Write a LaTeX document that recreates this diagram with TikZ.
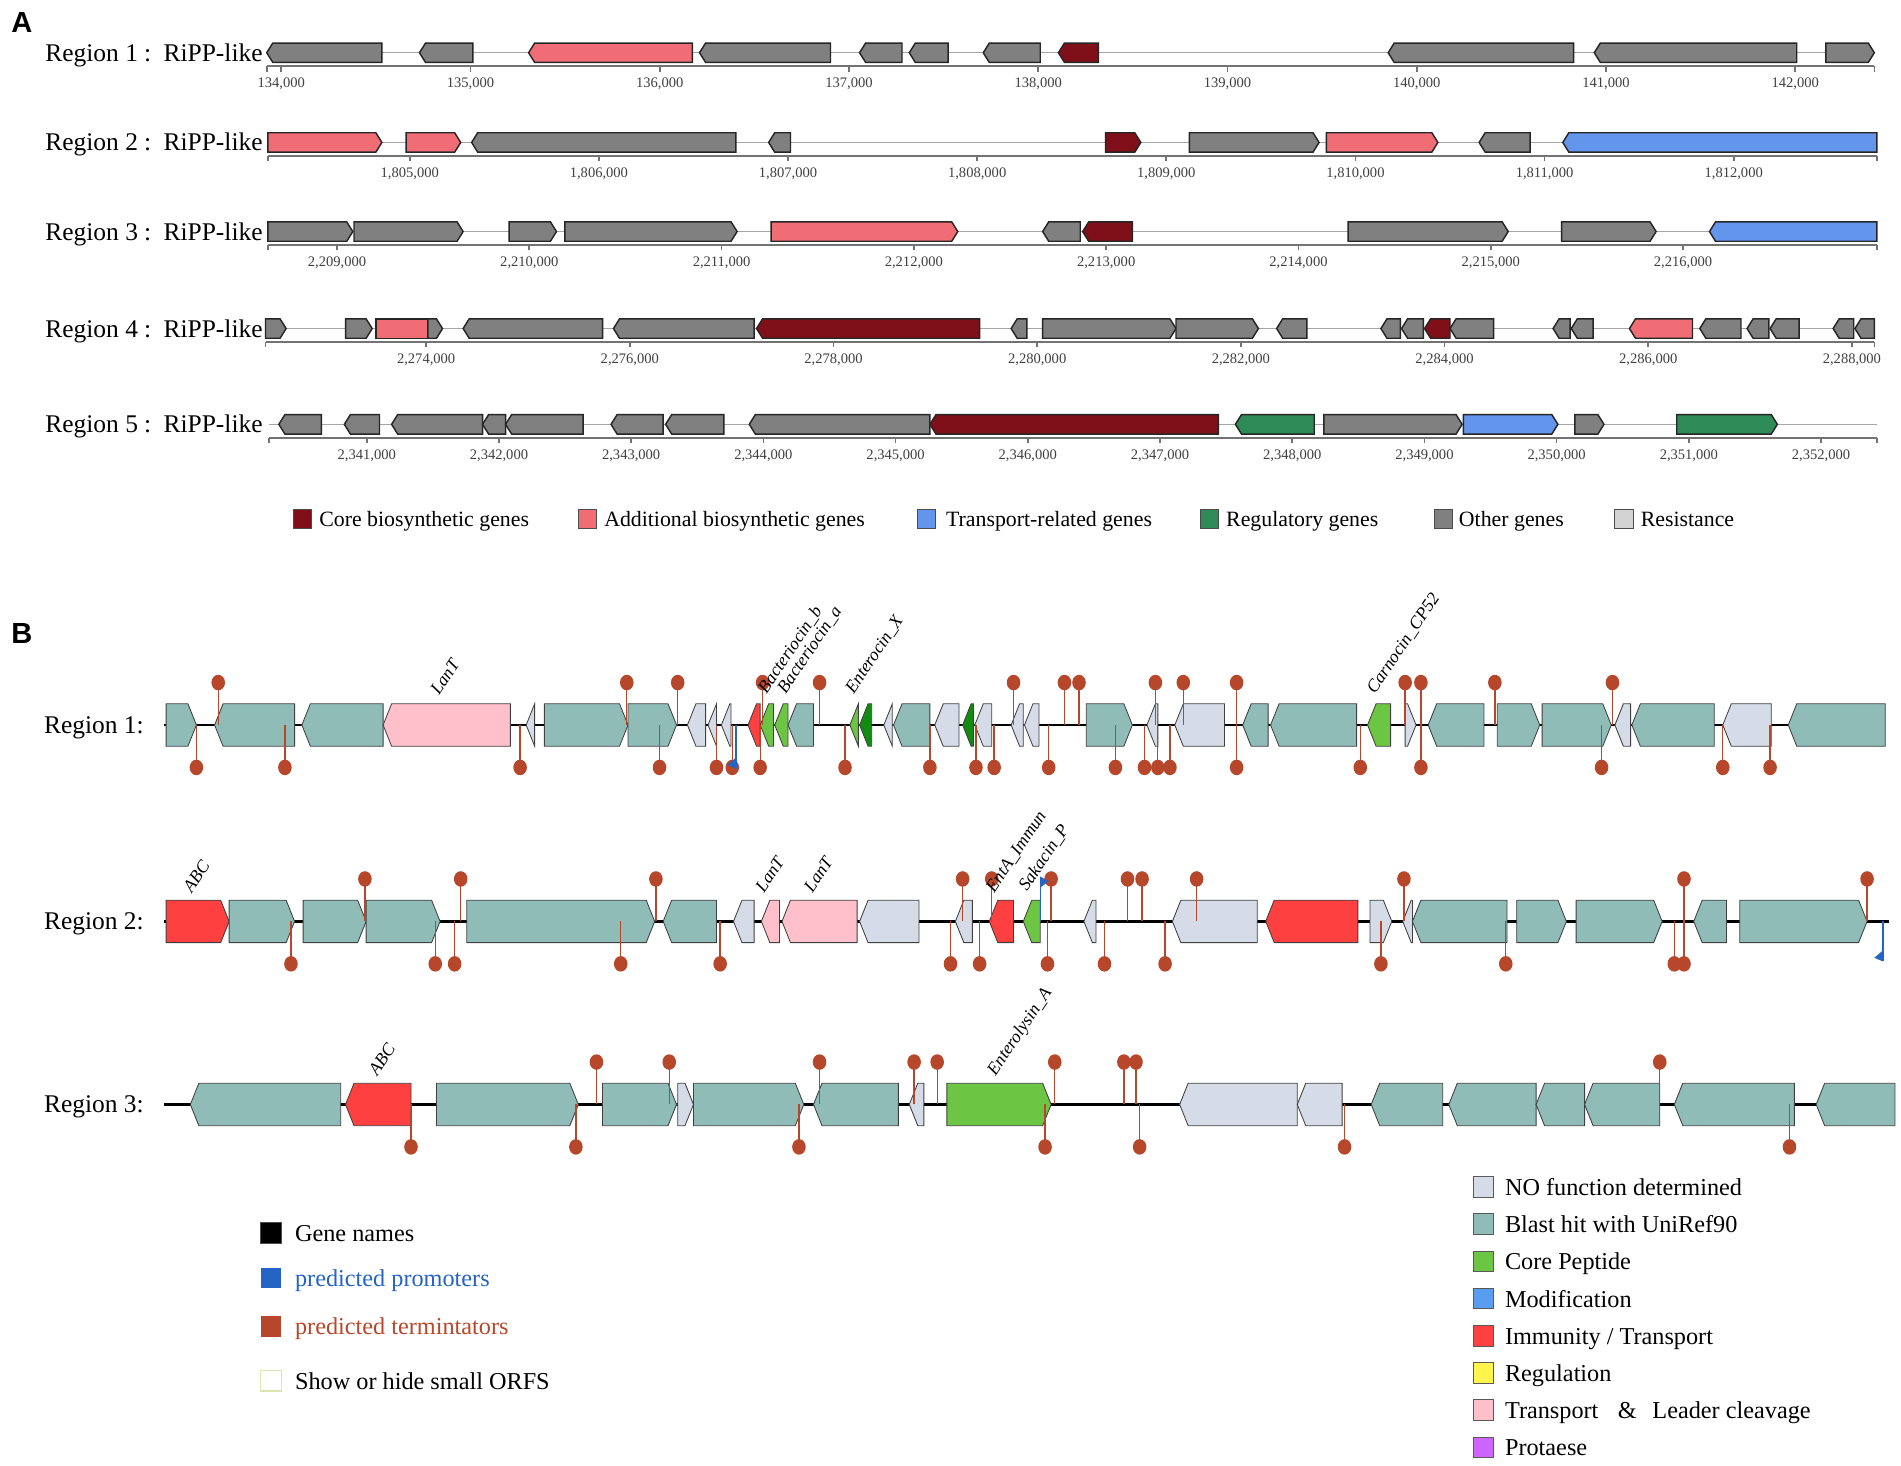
\documentclass[tikz,border=0pt]{standalone}
\usepackage{fontspec}
\setmainfont{Liberation Serif}
\newfontfamily\panelfont{Liberation Sans}
\usetikzlibrary{positioning}

% panel A colours
\definecolor{aGray}{HTML}{808080}
\definecolor{aCore}{HTML}{7F0F19}
\definecolor{aAdd}{HTML}{F06D76}
\definecolor{aTrans}{HTML}{6495ED}
\definecolor{aReg}{HTML}{2E8B57}
\definecolor{aRes}{HTML}{D3D3D3}
% panel B colours
\definecolor{bBlast}{HTML}{90BCB8}
\definecolor{bNone}{HTML}{D5DCE7}
\definecolor{bCore}{HTML}{6CC644}
\definecolor{bDark}{HTML}{118C11}
\definecolor{bImmun}{HTML}{FF4040}
\definecolor{bPink}{HTML}{FFC0CB}
\definecolor{bMod}{HTML}{5A9CF0}
\definecolor{bReg}{HTML}{FFF54D}
\definecolor{bProt}{HTML}{CC66FF}
\definecolor{term}{HTML}{B7472A}
\definecolor{prom}{HTML}{2563C4}
\definecolor{orfEdge}{HTML}{D9E8B0}

\tikzset{
  geneA/.style={draw=black!85, line width=0.6pt},
  geneB/.style={draw=black!75, line width=0.35pt},
  backA/.style={draw=black!35, line width=0.5pt},
  axisA/.style={draw=black!55, line width=0.7pt},
  backB/.style={draw=black, line width=0.9pt},
  termstem/.style={draw=term, line width=0.55pt},
  promline/.style={draw=prom, line width=0.6pt},
  regionA/.style={font=\fontsize{10.5}{12}\selectfont, inner sep=0pt},
  tickA/.style={font=\fontsize{6}{7}\selectfont, text=black!75, inner sep=0pt, anchor=base},
  legendA/.style={font=\fontsize{9}{11}\selectfont, inner sep=0pt, anchor=base west},
  regionB/.style={font=\fontsize{10.5}{12}\selectfont, inner sep=0pt, anchor=base east},
  genename/.style={font=\fontsize{7.3}{8}\selectfont\itshape, inner sep=0pt, rotate=56, anchor=base west},
  legendB/.style={font=\fontsize{10}{12}\selectfont, inner sep=0pt, anchor=base west},
  panel/.style={font=\panelfont\bfseries\fontsize{12}{14}\selectfont, inner sep=0pt, anchor=base west}
}

% gene arrow: style, colour, y, x1, x2, direction (r/l/b), half height, tip
\newcommand{\genepoly}[8]{%
  \pgfmathsetmacro{\tiplen}{min(#8,#5-#4)}%
  \if#6r
    \draw[#1, fill=#2] (#4,#3-#7) -- (#5-\tiplen,#3-#7) -- (#5,#3) -- (#5-\tiplen,#3+#7) -- (#4,#3+#7) -- cycle;
  \else\if#6l
    \draw[#1, fill=#2] (#5,#3-#7) -- (#4+\tiplen,#3-#7) -- (#4,#3) -- (#4+\tiplen,#3+#7) -- (#5,#3+#7) -- cycle;
  \else
    \draw[#1, fill=#2] (#4,#3-#7) rectangle (#5,#3+#7);
  \fi\fi}
\newcommand{\geneA}[5]{\genepoly{geneA}{#1}{#2}{#3}{#4}{#5}{8}{5}}
\newcommand{\geneB}[5]{\genepoly{geneB}{#1}{#2}{#3}{#4}{#5}{17.5}{7}}
% terminator: x, line y, head y
\newcommand{\terminator}[3]{\draw[termstem] (#1,#2) -- (#1,#3); \fill[term] (#1,#3) ellipse[x radius=2.8pt, y radius=3.2pt];}

\begin{document}
\begin{tikzpicture}[x=0.5pt, y=-0.5pt]
\useasboundingbox (0,0) rectangle (1568,1209);
\fill[white] (0,0) rectangle (1568,1209);

% panel A
\node[panel] (panA) at (9,27) {A};
\foreach \i/\y in {1/43.5,2/117.5,3/191,4/271,5/350} {
  \node[regionA, anchor=base west] (regA\i) at (37,\y+7) {Region \i\kern2.5pt:};
  \node[regionA, anchor=base east] (typeA\i) at (217,\y+7) {RiPP-like};
}
% region 1
\draw[backA] (220,43.5) -- (1546,43.5);
\foreach \a/\b/\d/\c in {220/315/l/aGray, 346/390/l/aGray, 436/571/l/aAdd, 577/685/l/aGray, 709/744/l/aGray, 750/782/l/aGray, 811/858/l/aGray, 873/906/l/aCore, 1145/1298/l/aGray, 1315/1482/l/aGray, 1506/1546/r/aGray}
  {\geneA{\c}{43.5}{\a}{\b}{\d}}
\draw[axisA] (220,54.5) -- (1546,54.5);
\foreach \x in {220,1546} {\draw[axisA] (\x,54.5) -- (\x,59);}
\foreach \k [count=\i from 0] in {134,...,142} {
  \draw[axisA] (232+156.1*\i,54.5) -- ++(0,4.5);
  \node[tickA] (tkA1\k) at (232+156.1*\i,72.5) {\k,000};
}
% region 2
\draw[backA] (221,117.5) -- (1548,117.5);
\foreach \a/\b/\d/\c in {221/315/r/aAdd, 335/380/r/aAdd, 389/607/l/aGray, 634/652/l/aGray, 912/941/r/aCore, 981/1088/r/aGray, 1094/1186/r/aAdd, 1220/1262/l/aGray, 1289/1548/l/aTrans}
  {\geneA{\c}{117.5}{\a}{\b}{\d}}
\draw[axisA] (221,128.5) -- (1548,128.5);
\foreach \x in {221,1548} {\draw[axisA] (\x,128.5) -- (\x,133);}
\foreach \k [count=\i from 0] in {805,...,812} {
  \draw[axisA] (338+156*\i,128.5) -- ++(0,4.5);
  \node[tickA] (tkA2\k) at (338+156*\i,146.5) {1,\k,000};
}
% region 3
\draw[backA] (221,191) -- (1548,191);
\foreach \a/\b/\d/\c in {221/291/r/aGray, 292/382/r/aGray, 420/459/r/aGray, 466/608/r/aGray, 636/790/r/aAdd, 860/891/l/aGray, 893/934/l/aCore, 1112/1244/r/aGray, 1288/1366/r/aGray, 1410/1548/l/aTrans}
  {\geneA{\c}{191}{\a}{\b}{\d}}
\draw[axisA] (221,202) -- (1548,202);
\foreach \x in {221,1548} {\draw[axisA] (\x,202) -- (\x,206.5);}
\foreach \k [count=\i from 0] in {209,...,216} {
  \draw[axisA] (278+158.6*\i,202) -- ++(0,4.5);
  \node[tickA] (tkA3\k) at (278+158.6*\i,220) {2,\k,000};
}
% region 4
\draw[backA] (219,271) -- (1546,271);
\foreach \a/\b/\d/\c in {219/236/r/aGray, 285/307/r/aGray, 310/354/b/aAdd, 353/365/r/aGray, 382/497/l/aGray, 506/622/l/aGray, 624/808/l/aCore, 834/847/l/aGray, 860/970/r/aGray, 970/1038/r/aGray, 1053/1078/l/aGray, 1139/1155/l/aGray, 1156/1174/l/aGray, 1175/1196/l/aCore, 1196/1232/l/aGray, 1281/1295/l/aGray, 1296/1314/l/aGray, 1344/1396/l/aAdd, 1402/1436/l/aGray, 1441/1459/l/aGray, 1460/1484/l/aGray, 1512/1529/l/aGray, 1530/1546/l/aGray}
  {\geneA{\c}{271}{\a}{\b}{\d}}
\draw[axisA] (219,282) -- (1546,282);
\foreach \x in {219,1546} {\draw[axisA] (\x,282) -- (\x,286.5);}
\foreach \k [count=\i from 0] in {274,276,...,288} {
  \draw[axisA] (351.5+168*\i,282) -- ++(0,4.5);
  \node[tickA] (tkA4\k) at (351.5+168*\i,300) {2,\k,000};
}
% region 5
\draw[backA] (222,350) -- (1548,350);
\foreach \a/\b/\d/\c in {230/265/l/aGray, 284/313/l/aGray, 323/398/l/aGray, 398/417/l/aGray, 417/481/l/aGray, 504/547/l/aGray, 549/597/l/aGray, 618/767/l/aGray, 767/1005/l/aCore, 1019/1084/l/aReg, 1092/1206/r/aGray, 1207/1285/r/aTrans, 1299/1323/r/aGray, 1383/1466/r/aReg}
  {\geneA{\c}{350}{\a}{\b}{\d}}
\draw[axisA] (222,361) -- (1548,361);
\foreach \x in {222,1548} {\draw[axisA] (\x,361) -- (\x,365.5);}
\foreach \k [count=\i from 0] in {341,...,352} {
  \draw[axisA] (302.5+109.05*\i,361) -- ++(0,4.5);
  \node[tickA] (tkA5\k) at (302.5+109.05*\i,379) {2,\k,000};
}
% legend A
\foreach \xs/\xt/\c/\txt [count=\i] in {242/263/aCore/Core biosynthetic genes, 477/498/aAdd/Additional biosynthetic genes, 757/780/aTrans/Transport-related genes, 990/1011/aReg/Regulatory genes, 1183/1203/aGray/Other genes, 1332/1353/aRes/Resistance} {
  \draw[draw=black!70, line width=0.4pt, fill=\c] (\xs,420.5) rectangle ++(15,15);
  \node[legendA] (legA\i) at (\xt,434) {\txt};
}

% panel B
\node[panel] (panB) at (9,531) {B};
\foreach \i/\y in {1/598,2/760,3/911} {
  \node[regionB] (regB\i) at (119,\y+7) {Region \i :};
}
% region 1
\draw[backB] (135,598) -- (1555,598);
\foreach \a/\b/\d/\c in {137/162/r/bBlast, 177/243/l/bBlast, 249/316/l/bBlast, 316/421/l/bPink, 434/441/l/bNone, 449/518/r/bBlast, 518/558/r/bBlast, 567/582/l/bNone, 584/591/l/bNone, 595/603/l/bNone, 617/627/l/bImmun, 627/638/l/bCore, 639/650/l/bCore, 650/671/l/bBlast, 701/708/l/bCore, 709/719/l/bDark, 729/736/l/bNone, 737/767/l/bBlast, 771/791/l/bNone, 794/803/l/bDark, 804/818/l/bNone, 834/844/l/bNone, 845/857/l/bNone, 896/934/r/bBlast, 946/955/l/bNone, 969/1010/l/bNone, 1025/1046/l/bBlast, 1048/1119/l/bBlast, 1128/1147/l/bCore, 1159/1168/r/bNone, 1178/1224/l/bBlast, 1235/1270/r/bBlast, 1272/1329/r/bBlast, 1332/1345/l/bNone, 1346/1414/l/bBlast, 1421/1461/l/bNone, 1475/1555/l/bBlast}
  {\geneB{\c}{598}{\a}{\b}{\d}}
\foreach \t in {180,517,559,629,676,836,878,890,953,976,1020,1159,1172,1233,1330} {\terminator{\t}{598}{563}}
\foreach \t in {162,235,429,544,591,604,627,697,767,805,820,865,920,944,955,965,1020,1122,1172,1321,1421,1460} {\terminator{\t}{598}{633}}
\draw[promline] (607,598) -- (607,634);
\fill[prom] (607,625) -- (607,634) -- (600,631) -- cycle;
\node[genename] (nmLanT) at (362,574) {LanT};
\node[genename] (nmBacB) at (632,573) {Bacteriocin\_b};
\node[genename] (nmBacA) at (648,573) {Bacteriocin\_a};
\node[genename] (nmEntX) at (704,573) {Enterocin\_X};
\node[genename] (nmCarn) at (1134,573) {Carnocin\_CP52};
% region 2
\draw[backB] (135,760) -- (1558,760);
\foreach \a/\b/\d/\c in {137/189/r/bImmun, 189/243/r/bBlast, 250/302/r/bBlast, 302/363/r/bBlast, 385/540/r/bBlast, 547/591/l/bBlast, 605/622/l/bNone, 628/643/l/bPink, 645/707/l/bPink, 709/758/l/bNone, 788/802/l/bNone, 816/836/l/bImmun, 844/858/l/bCore, 894/904/l/bNone, 967/1037/l/bNone, 1044/1120/l/bImmun, 1130/1148/r/bNone, 1157/1165/l/bNone, 1165/1243/l/bBlast, 1251/1292/r/bBlast, 1300/1371/r/bBlast, 1397/1424/l/bBlast, 1435/1540/r/bBlast}
  {\geneB{\c}{760}{\a}{\b}{\d}}
\foreach \t in {301,380,541,794,818,867,930,942,987,1158,1389,1540} {\terminator{\t}{760}{725}}
\foreach \t in {240,359,375,512,594,784,808,864,911,961,1139,1242,1381,1389} {\terminator{\t}{760}{795}}
\draw[promline] (858,760) -- (858,723);
\fill[prom] (858,723) -- (858,732) -- (865,727) -- cycle;
\draw[promline] (1553,760) -- (1553,793);
\fill[prom] (1553,784) -- (1553,793) -- (1546,790) -- cycle;
\node[genename] (nmABC2) at (158,737) {ABC};
\node[genename] (nmLanT2a) at (630,737) {LanT};
\node[genename] (nmLanT2b) at (670,737) {LanT};
\node[genename] (nmEntA) at (820,737) {EntA\_Immun};
\node[genename] (nmSak) at (847,736) {Sakacin\_P};
% region 3
\draw[backB] (135,911) -- (1563,911);
\foreach \a/\b/\d/\c in {157/281/l/bBlast, 285/339/l/bImmun, 360/477/r/bBlast, 497/558/r/bBlast, 559/572/r/bNone, 572/663/r/bBlast, 671/741/l/bBlast, 750/762/l/bNone, 781/867/r/bCore, 973/1070/l/bNone, 1070/1107/l/bNone, 1131/1190/l/bBlast, 1195/1267/l/bBlast, 1267/1307/l/bBlast, 1307/1369/l/bBlast, 1381/1480/l/bBlast, 1498/1563/l/bBlast}
  {\geneB{\c}{911}{\a}{\b}{\d}}
\foreach \t in {492,552,676,754,773,870,927,937,1369} {\terminator{\t}{911}{876}}
\foreach \t in {339,475,659,862,940,1109,1476} {\terminator{\t}{911}{946}}
\node[genename] (nmABC3) at (311,888) {ABC};
\node[genename] (nmEly) at (821,888) {Enterolysin\_A};

% legend B
\draw[draw=black!70, fill=black] (215,1008.5) rectangle ++(17,17);
\node[legendB] (legGene) at (243,1024) {Gene names};
\fill[prom] (215,1045.5) rectangle ++(17,17);
\node[legendB, text=prom] (legProm) at (243,1061) {predicted promoters};
\fill[term] (215,1085.5) rectangle ++(17,17);
\node[legendB, text=term] (legTerm) at (243,1101) {predicted termintators};
\draw[draw=orfEdge, line width=0.6pt, fill=white] (215,1130.5) rectangle ++(17,17);
\node[legendB] (legOrf) at (243,1146) {Show or hide small ORFS};
\foreach \c/\txt [count=\i from 0] in {bNone/NO function determined, bBlast/Blast hit with UniRef90, bCore/Core Peptide, bMod/Modification, bImmun/{Immunity / Transport}, bReg/Regulation, bPink/{Transport\hspace{8pt}\&\hspace{6.5pt}Leader cleavage}, bProt/Protaese} {
  \draw[draw=black!65, line width=0.4pt, fill=\c] (1215,970.5+30.7*\i) rectangle ++(17,17);
  \node[legendB] (legB\i) at (1241,986+30.7*\i) {\txt};
}
\end{tikzpicture}
\end{document}
